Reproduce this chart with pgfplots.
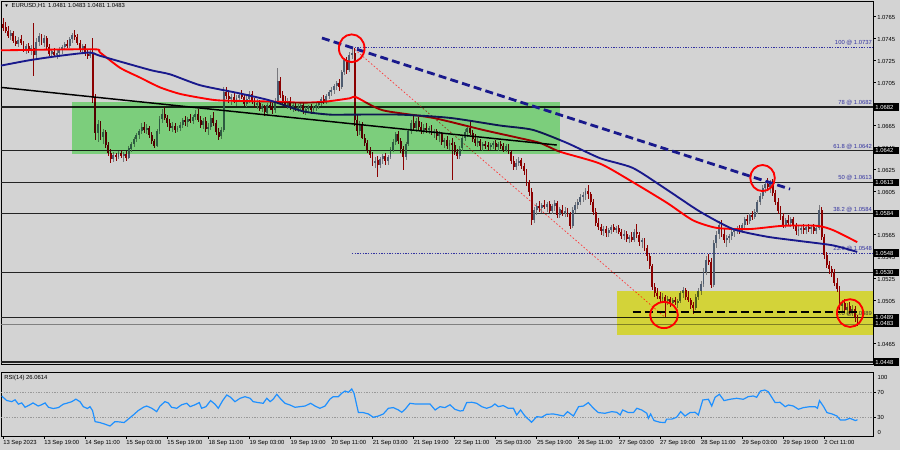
\documentclass[border=0pt]{standalone}
\usepackage{pgfplots}
\pgfplotsset{compat=1.18}
\usepackage{pgfplotstable}
\usepackage{fontspec}
\setmainfont{Liberation Sans}

\definecolor{chartbg}{RGB}{211,211,211}
\definecolor{bullbody}{RGB}{78,92,112}
\definecolor{bullwick}{RGB}{120,120,124}
\definecolor{bearbody}{RGB}{139,0,0}
\definecolor{maslow}{RGB}{25,25,140}
\definecolor{fibblue}{RGB}{50,50,160}
\definecolor{zonegreen}{RGB}{150,250,150}
\definecolor{zoneyellow}{RGB}{255,255,70}
\definecolor{rsiblue}{RGB}{30,144,255}
\definecolor{lvl}{RGB}{35,35,35}

\newcommand{\lbl}{\fontsize{4.4}{5}\selectfont}

\pgfplotsset{
  bull/.style={unbounded coords=discard,
    restrict expr to domain={\thisrow{c}-\thisrow{o}}{-0.000001:1}},
  bear/.style={unbounded coords=discard,
    restrict expr to domain={\thisrow{c}-\thisrow{o}}{-1:-0.00001}},
}
\tikzset{
  pricebox/.style={fill=black, text=white, font=\lbl, inner xsep=1pt, inner ysep=0.5pt,
    text width=17pt, align=left, minimum height=5.4pt, anchor=west, xshift=0.6pt},
  fiblbl/.style={anchor=south east, font=\lbl, text=fibblue, inner xsep=0.6pt, inner ysep=0.9pt},
}

% EURUSD H1, 13 Sep 2023 03:00 onwards, one row per hour
\pgfplotstableread{
o h l c
1.0758 1.0764 1.0752 1.0755
1.0755 1.0760 1.0750 1.0752
1.0752 1.0756 1.0745 1.0747
1.0747 1.0753 1.0744 1.0750
1.0750 1.0752 1.0741 1.0743
1.0743 1.0747 1.0738 1.0740
1.0740 1.0746 1.0737 1.0744
1.0744 1.0748 1.0739 1.0741
1.0741 1.0743 1.0733 1.0735
1.0735 1.0740 1.0731 1.0738
1.0738 1.0741 1.0732 1.0734
1.0734 1.0739 1.0730 1.0736
1.0736 1.0759 1.0711 1.0730
1.0730 1.0745 1.0727 1.0742
1.0742 1.0750 1.0738 1.0747
1.0747 1.0749 1.0739 1.0741
1.0741 1.0748 1.0737 1.0745
1.0745 1.0747 1.0735 1.0737
1.0737 1.0740 1.0729 1.0731
1.0731 1.0735 1.0727 1.0733
1.0733 1.0736 1.0728 1.0730
1.0730 1.0734 1.0726 1.0732
1.0732 1.0737 1.0729 1.0735
1.0735 1.0739 1.0731 1.0737
1.0737 1.0742 1.0734 1.0740
1.0740 1.0744 1.0736 1.0738
1.0738 1.0746 1.0736 1.0744
1.0744 1.0750 1.0741 1.0748
1.0748 1.0753 1.0744 1.0746
1.0746 1.0749 1.0739 1.0741
1.0741 1.0744 1.0733 1.0735
1.0735 1.0740 1.0731 1.0738
1.0738 1.0740 1.0729 1.0731
1.0731 1.0735 1.0726 1.0729
1.0729 1.0734 1.0727 1.0732
1.0732 1.0745 1.0686 1.0690
1.0690 1.0694 1.0652 1.0658
1.0658 1.0670 1.0650 1.0666
1.0666 1.0669 1.0652 1.0655
1.0655 1.0662 1.0648 1.0659
1.0659 1.0661 1.0644 1.0647
1.0647 1.0650 1.0637 1.0640
1.0640 1.0644 1.0631 1.0634
1.0634 1.0641 1.0632 1.0638
1.0638 1.0640 1.0633 1.0636
1.0636 1.0642 1.0634 1.0640
1.0640 1.0643 1.0635 1.0637
1.0637 1.0641 1.0632 1.0639
1.0639 1.0642 1.0633 1.0635
1.0635 1.0646 1.0634 1.0644
1.0644 1.0650 1.0641 1.0648
1.0648 1.0655 1.0645 1.0653
1.0653 1.0658 1.0650 1.0656
1.0656 1.0662 1.0653 1.0660
1.0660 1.0667 1.0657 1.0664
1.0664 1.0668 1.0658 1.0661
1.0661 1.0666 1.0657 1.0663
1.0663 1.0665 1.0654 1.0656
1.0656 1.0659 1.0648 1.0651
1.0651 1.0653 1.0644 1.0646
1.0646 1.0662 1.0645 1.0660
1.0660 1.0674 1.0657 1.0671
1.0671 1.0680 1.0667 1.0676
1.0676 1.0682 1.0670 1.0672
1.0672 1.0675 1.0664 1.0667
1.0667 1.0671 1.0660 1.0663
1.0663 1.0668 1.0659 1.0665
1.0665 1.0667 1.0658 1.0661
1.0661 1.0665 1.0659 1.0663
1.0663 1.0668 1.0660 1.0666
1.0666 1.0672 1.0663 1.0670
1.0670 1.0674 1.0665 1.0668
1.0668 1.0673 1.0664 1.0671
1.0671 1.0676 1.0667 1.0669
1.0669 1.0675 1.0666 1.0673
1.0673 1.0679 1.0670 1.0676
1.0676 1.0680 1.0668 1.0670
1.0670 1.0674 1.0663 1.0666
1.0666 1.0672 1.0662 1.0669
1.0669 1.0673 1.0659 1.0662
1.0662 1.0667 1.0656 1.0664
1.0664 1.0675 1.0661 1.0672
1.0672 1.0677 1.0665 1.0667
1.0667 1.0670 1.0656 1.0659
1.0659 1.0663 1.0652 1.0655
1.0655 1.0664 1.0653 1.0661
1.0661 1.0700 1.0659 1.0696
1.0696 1.0700 1.0689 1.0692
1.0692 1.0697 1.0686 1.0689
1.0689 1.0694 1.0684 1.0691
1.0691 1.0696 1.0686 1.0688
1.0688 1.0693 1.0683 1.0690
1.0690 1.0695 1.0687 1.0693
1.0693 1.0698 1.0689 1.0691
1.0691 1.0694 1.0683 1.0685
1.0685 1.0692 1.0682 1.0689
1.0689 1.0697 1.0686 1.0694
1.0694 1.0697 1.0685 1.0687
1.0687 1.0690 1.0681 1.0684
1.0684 1.0689 1.0680 1.0686
1.0686 1.0688 1.0678 1.0680
1.0680 1.0685 1.0677 1.0683
1.0683 1.0684 1.0674 1.0677
1.0677 1.0686 1.0675 1.0684
1.0684 1.0688 1.0679 1.0682
1.0682 1.0686 1.0676 1.0679
1.0679 1.0690 1.0677 1.0688
1.0688 1.0718 1.0686 1.0706
1.0706 1.0710 1.0690 1.0693
1.0693 1.0697 1.0684 1.0687
1.0687 1.0692 1.0681 1.0683
1.0683 1.0690 1.0680 1.0688
1.0688 1.0691 1.0679 1.0681
1.0681 1.0686 1.0677 1.0684
1.0684 1.0687 1.0678 1.0680
1.0680 1.0685 1.0677 1.0682
1.0682 1.0686 1.0678 1.0684
1.0684 1.0686 1.0676 1.0678
1.0678 1.0682 1.0675 1.0680
1.0680 1.0684 1.0677 1.0682
1.0682 1.0685 1.0676 1.0679
1.0679 1.0683 1.0676 1.0681
1.0681 1.0686 1.0678 1.0684
1.0684 1.0688 1.0680 1.0686
1.0686 1.0691 1.0683 1.0689
1.0689 1.0693 1.0685 1.0687
1.0687 1.0694 1.0685 1.0692
1.0692 1.0698 1.0689 1.0696
1.0696 1.0700 1.0692 1.0698
1.0698 1.0703 1.0694 1.0701
1.0701 1.0706 1.0698 1.0704
1.0704 1.0708 1.0697 1.0700
1.0700 1.0716 1.0699 1.0714
1.0714 1.0727 1.0711 1.0725
1.0725 1.0728 1.0712 1.0716
1.0716 1.0733 1.0714 1.0730
1.0730 1.0737 1.0726 1.0732
1.0732 1.0736 1.0665 1.0670
1.0670 1.0675 1.0655 1.0660
1.0660 1.0669 1.0656 1.0666
1.0666 1.0668 1.0653 1.0654
1.0654 1.0657 1.0646 1.0649
1.0649 1.0652 1.0640 1.0643
1.0643 1.0645 1.0635 1.0638
1.0638 1.0641 1.0628 1.0631
1.0631 1.0636 1.0626 1.0633
1.0633 1.0637 1.0618 1.0629
1.0629 1.0636 1.0626 1.0634
1.0634 1.0639 1.0630 1.0637
1.0637 1.0640 1.0629 1.0632
1.0632 1.0638 1.0629 1.0636
1.0636 1.0645 1.0634 1.0643
1.0643 1.0653 1.0641 1.0650
1.0650 1.0659 1.0647 1.0657
1.0657 1.0660 1.0648 1.0651
1.0651 1.0654 1.0640 1.0643
1.0643 1.0646 1.0624 1.0636
1.0636 1.0650 1.0633 1.0648
1.0648 1.0662 1.0646 1.0660
1.0660 1.0670 1.0657 1.0667
1.0667 1.0675 1.0660 1.0663
1.0663 1.0672 1.0659 1.0669
1.0669 1.0673 1.0660 1.0664
1.0664 1.0668 1.0657 1.0660
1.0660 1.0666 1.0657 1.0663
1.0663 1.0667 1.0658 1.0661
1.0661 1.0665 1.0657 1.0663
1.0663 1.0666 1.0656 1.0658
1.0658 1.0662 1.0654 1.0660
1.0660 1.0662 1.0652 1.0655
1.0655 1.0660 1.0650 1.0657
1.0657 1.0659 1.0647 1.0650
1.0650 1.0654 1.0644 1.0652
1.0652 1.0655 1.0643 1.0646
1.0646 1.0652 1.0643 1.0649
1.0649 1.0654 1.0615 1.0647
1.0647 1.0650 1.0638 1.0641
1.0641 1.0644 1.0634 1.0637
1.0637 1.0646 1.0634 1.0644
1.0644 1.0656 1.0642 1.0654
1.0654 1.0662 1.0651 1.0659
1.0659 1.0666 1.0655 1.0663
1.0663 1.0670 1.0656 1.0658
1.0658 1.0661 1.0650 1.0653
1.0653 1.0657 1.0646 1.0649
1.0649 1.0654 1.0645 1.0651
1.0651 1.0653 1.0643 1.0646
1.0646 1.0650 1.0642 1.0648
1.0648 1.0651 1.0644 1.0647
1.0647 1.0650 1.0642 1.0645
1.0645 1.0649 1.0643 1.0647
1.0647 1.0651 1.0644 1.0649
1.0649 1.0652 1.0643 1.0645
1.0645 1.0650 1.0642 1.0648
1.0648 1.0651 1.0644 1.0646
1.0646 1.0649 1.0641 1.0643
1.0643 1.0648 1.0641 1.0646
1.0646 1.0648 1.0639 1.0641
1.0641 1.0643 1.0630 1.0633
1.0633 1.0637 1.0624 1.0627
1.0627 1.0634 1.0624 1.0631
1.0631 1.0636 1.0628 1.0633
1.0633 1.0635 1.0625 1.0628
1.0628 1.0631 1.0620 1.0623
1.0623 1.0625 1.0610 1.0613
1.0613 1.0615 1.0600 1.0604
1.0604 1.0608 1.0574 1.0578
1.0578 1.0590 1.0576 1.0588
1.0588 1.0594 1.0583 1.0591
1.0591 1.0596 1.0586 1.0589
1.0589 1.0594 1.0585 1.0592
1.0592 1.0597 1.0588 1.0590
1.0590 1.0595 1.0586 1.0593
1.0593 1.0596 1.0585 1.0587
1.0587 1.0593 1.0584 1.0591
1.0591 1.0597 1.0587 1.0594
1.0594 1.0596 1.0580 1.0583
1.0583 1.0590 1.0580 1.0588
1.0588 1.0592 1.0582 1.0585
1.0585 1.0590 1.0581 1.0587
1.0587 1.0589 1.0581 1.0584
1.0584 1.0586 1.0570 1.0573
1.0573 1.0590 1.0571 1.0588
1.0588 1.0595 1.0585 1.0592
1.0592 1.0598 1.0588 1.0595
1.0595 1.0602 1.0592 1.0599
1.0599 1.0604 1.0595 1.0601
1.0601 1.0608 1.0597 1.0605
1.0605 1.0610 1.0598 1.0602
1.0602 1.0604 1.0592 1.0595
1.0595 1.0598 1.0583 1.0586
1.0586 1.0589 1.0573 1.0576
1.0576 1.0580 1.0569 1.0572
1.0572 1.0575 1.0565 1.0568
1.0568 1.0573 1.0564 1.0570
1.0570 1.0573 1.0563 1.0566
1.0566 1.0571 1.0563 1.0569
1.0569 1.0574 1.0566 1.0572
1.0572 1.0575 1.0567 1.0569
1.0569 1.0573 1.0566 1.0571
1.0571 1.0574 1.0565 1.0567
1.0567 1.0570 1.0561 1.0564
1.0564 1.0569 1.0560 1.0566
1.0566 1.0568 1.0558 1.0561
1.0561 1.0565 1.0557 1.0563
1.0563 1.0567 1.0558 1.0560
1.0560 1.0570 1.0558 1.0567
1.0567 1.0575 1.0562 1.0565
1.0565 1.0567 1.0555 1.0558
1.0558 1.0562 1.0553 1.0560
1.0560 1.0562 1.0550 1.0553
1.0553 1.0555 1.0541 1.0545
1.0545 1.0548 1.0533 1.0536
1.0536 1.0538 1.0514 1.0517
1.0517 1.0521 1.0508 1.0511
1.0511 1.0516 1.0506 1.0509
1.0509 1.0512 1.0503 1.0506
1.0506 1.0511 1.0502 1.0508
1.0508 1.0510 1.0489 1.0504
1.0504 1.0509 1.0500 1.0506
1.0506 1.0508 1.0499 1.0502
1.0502 1.0507 1.0499 1.0505
1.0505 1.0508 1.0500 1.0503
1.0503 1.0506 1.0498 1.0504
1.0504 1.0513 1.0502 1.0511
1.0511 1.0517 1.0507 1.0514
1.0514 1.0516 1.0505 1.0508
1.0508 1.0513 1.0503 1.0505
1.0505 1.0507 1.0497 1.0500
1.0500 1.0503 1.0492 1.0498
1.0498 1.0510 1.0496 1.0508
1.0508 1.0516 1.0505 1.0513
1.0513 1.0522 1.0510 1.0520
1.0520 1.0534 1.0517 1.0531
1.0531 1.0545 1.0528 1.0542
1.0542 1.0547 1.0537 1.0540
1.0540 1.0543 1.0516 1.0519
1.0519 1.0560 1.0517 1.0557
1.0557 1.0568 1.0553 1.0565
1.0565 1.0577 1.0561 1.0574
1.0574 1.0578 1.0563 1.0566
1.0566 1.0570 1.0557 1.0560
1.0560 1.0565 1.0554 1.0562
1.0562 1.0566 1.0557 1.0564
1.0564 1.0569 1.0560 1.0567
1.0567 1.0571 1.0563 1.0569
1.0569 1.0573 1.0565 1.0571
1.0571 1.0574 1.0566 1.0568
1.0568 1.0576 1.0566 1.0574
1.0574 1.0581 1.0571 1.0579
1.0579 1.0583 1.0574 1.0577
1.0577 1.0585 1.0575 1.0583
1.0583 1.0587 1.0578 1.0581
1.0581 1.0588 1.0579 1.0586
1.0586 1.0597 1.0584 1.0595
1.0595 1.0603 1.0592 1.0600
1.0600 1.0610 1.0598 1.0608
1.0608 1.0614 1.0603 1.0611
1.0611 1.0617 1.0606 1.0609
1.0609 1.0615 1.0603 1.0613
1.0613 1.0616 1.0600 1.0603
1.0603 1.0606 1.0592 1.0595
1.0595 1.0599 1.0584 1.0587
1.0587 1.0591 1.0578 1.0582
1.0582 1.0585 1.0571 1.0574
1.0574 1.0580 1.0571 1.0578
1.0578 1.0583 1.0574 1.0576
1.0576 1.0581 1.0572 1.0579
1.0579 1.0581 1.0570 1.0573
1.0573 1.0576 1.0565 1.0568
1.0568 1.0573 1.0564 1.0570
1.0570 1.0574 1.0566 1.0571
1.0571 1.0575 1.0566 1.0569
1.0569 1.0574 1.0565 1.0572
1.0572 1.0575 1.0567 1.0570
1.0570 1.0574 1.0566 1.0572
1.0572 1.0575 1.0566 1.0568
1.0568 1.0574 1.0565 1.0571
1.0571 1.0592 1.0569 1.0588
1.0588 1.0590 1.0560 1.0563
1.0563 1.0566 1.0543 1.0546
1.0546 1.0549 1.0534 1.0537
1.0537 1.0541 1.0529 1.0533
1.0533 1.0536 1.0526 1.0530
1.0530 1.0533 1.0518 1.0521
1.0521 1.0525 1.0512 1.0515
1.0515 1.0518 1.0496 1.0499
1.0499 1.0505 1.0494 1.0502
1.0502 1.0506 1.0493 1.0496
1.0496 1.0502 1.0491 1.0499
1.0499 1.0503 1.0492 1.0495
1.0495 1.0500 1.0490 1.0497
1.0497 1.0499 1.0485 1.0489
1.0489 1.0491 1.0481 1.0483
}\candles

\begin{document}
\begin{tikzpicture}
\fill[chartbg] (0,0) rectangle (675pt,-337.5pt);

% ---------------- price window ----------------
\begin{axis}[
  at={(0.75pt,-0.75pt)}, anchor=north west,
  scale only axis, width=654pt, height=272.25pt,
  xmin=-0.78, xmax=339.05, ymin=1.044616, ymax=1.077927,
  axis background/.style={fill=chartbg},
  axis line style={black, line width=0.6pt},
  clip mode=individual,
  xtick=\empty,
  ytick={1.0465,1.0485,1.0505,1.0525,1.0545,1.0565,1.0585,1.0605,1.0625,1.0645,1.0665,1.0685,1.0705,1.0725,1.0745,1.0765},
  yticklabels={1.0465,1.0485,1.0505,1.0525,1.0545,1.0565,1.0585,1.0605,1.0625,1.0645,1.0665,1.0685,1.0705,1.0725,1.0745,1.0765},
  ytick pos=right, yticklabel pos=right,
  tick align=outside, major tick length=2.2pt,
  tick style={black, line width=0.4pt},
  yticklabel style={font=\lbl, inner sep=0.8pt, yshift=-1pt},
]
% horizontal levels
\draw[lvl, line width=0.85pt] (axis cs:-0.78,1.0682) -- (axis cs:339.05,1.0682);
\draw[lvl, line width=0.85pt] (axis cs:-0.78,1.0642) -- (axis cs:339.05,1.0642);
\draw[lvl, line width=0.85pt] (axis cs:-0.78,1.0613) -- (axis cs:339.05,1.0613);
\draw[lvl, line width=0.85pt] (axis cs:-0.78,1.0584) -- (axis cs:339.05,1.0584);
\draw[lvl, line width=0.85pt] (axis cs:-0.78,1.0530) -- (axis cs:339.05,1.0530);
\draw[lvl, line width=0.85pt] (axis cs:-0.78,1.0489) -- (axis cs:339.05,1.0489);
\draw[lvl, line width=0.85pt] (axis cs:-0.78,1.0448) -- (axis cs:339.05,1.0448);
\draw[gray, line width=0.4pt] (axis cs:-0.78,1.0483) -- (axis cs:339.05,1.0483);
\draw[fibblue, line width=0.5pt, dash pattern=on 1pt off 1pt] (axis cs:136,1.0737) -- (axis cs:339.05,1.0737);
\draw[fibblue, line width=0.5pt, dash pattern=on 1pt off 1pt] (axis cs:136,1.0548) -- (axis cs:339.05,1.0548);

% fibonacci labels
\node[fiblbl] at (axis cs:339.05,1.0737) {100 @ 1.0737};
\node[fiblbl] at (axis cs:339.05,1.0682) {78 @ 1.0682};
\node[fiblbl] at (axis cs:339.05,1.0642) {61.8 @ 1.0642};
\node[fiblbl] at (axis cs:339.05,1.0613) {50 @ 1.0613};
\node[fiblbl] at (axis cs:339.05,1.0584) {38.2 @ 1.0584};
\node[fiblbl] at (axis cs:339.05,1.0548) {23.6 @ 1.0548};
\node[fiblbl] at (axis cs:339.05,1.0489) {0.0 @ 1.0489};

% red dotted fibo base line
\draw[red!80, line width=0.5pt, dash pattern=on 1.2pt off 1.5pt] (axis cs:136,1.0737) -- (axis cs:258,1.0489);

% candles: wicks
\addplot[draw=none, mark=none, bull, error bars/.cd, y dir=both, y explicit, error mark=none,
  error bar style={draw=bullwick, line width=0.55pt}]
  table[x expr=\coordindex, y expr={(\thisrow{h}+\thisrow{l})/2}, y error expr={(\thisrow{h}-\thisrow{l})/2}] {\candles};
\addplot[draw=none, mark=none, bear, error bars/.cd, y dir=both, y explicit, error mark=none,
  error bar style={draw=bearbody, line width=0.55pt}]
  table[x expr=\coordindex, y expr={(\thisrow{h}+\thisrow{l})/2}, y error expr={(\thisrow{h}-\thisrow{l})/2}] {\candles};
% candles: bodies
\addplot[draw=none, mark=none, bull, error bars/.cd, y dir=both, y explicit, error mark=none,
  error bar style={draw=bullbody, line width=1.45pt}]
  table[x expr=\coordindex, y expr={(\thisrow{o}+\thisrow{c})/2}, y error expr={max(abs(\thisrow{c}-\thisrow{o})/2,0.00004)}] {\candles};
\addplot[draw=none, mark=none, bear, error bars/.cd, y dir=both, y explicit, error mark=none,
  error bar style={draw=bearbody, line width=1.45pt}]
  table[x expr=\coordindex, y expr={(\thisrow{o}+\thisrow{c})/2}, y error expr={max(abs(\thisrow{c}-\thisrow{o})/2,0.00004)}] {\candles};

% moving averages
\addplot[red, line width=1.4pt, smooth, tension=0.4] coordinates {
(-0.78,1.0734) (35,1.0735) (37.8,1.0732) (45.6,1.0718) (53.4,1.0709) (61.2,1.0700)
(69,1.0694) (78,1.0690) (84.6,1.0688) (104,1.0687) (117,1.0686) (126,1.0687)
(135.2,1.0690) (137.6,1.0691) (148,1.0679) (167.6,1.0672) (187,1.0661) (200.3,1.0654)
(209.3,1.0649) (217,1.0641) (232.7,1.0630) (245.5,1.0613) (258.8,1.0594) (268.9,1.0578)
(278.3,1.0571) (291,1.0570) (304,1.0573) (317.2,1.0573) (323.5,1.0569) (332.9,1.0558)
};
\addplot[maslow, line width=1.4pt, smooth, tension=0.4] coordinates {
(-0.78,1.0720) (10.5,1.0725) (22.2,1.0729) (33.9,1.0732) (37.8,1.0729) (57.3,1.0716)
(65.1,1.0712) (76.8,1.0702) (91.2,1.0695) (104,1.0688) (117,1.0678) (127.4,1.0675)
(135.2,1.0675) (154.7,1.0675) (174.2,1.0672) (193.7,1.0665) (206.5,1.0661) (219.8,1.0649)
(232.7,1.0635) (245.5,1.0626) (258.8,1.0606) (271.6,1.0586) (284.5,1.0570) (297.7,1.0563)
(310.6,1.0559) (323.5,1.0555) (332.9,1.0549)
};

% black trend line
\draw[black, line width=1.1pt] (axis cs:-0.78,1.0700) -- (axis cs:215.8,1.06471);

% zones
\fill[zonegreen, blend mode=multiply] (axis cs:27,1.06869) rectangle (axis cs:217.1,1.06389);
\fill[zoneyellow, blend mode=multiply] (axis cs:239.3,1.05131) rectangle (axis cs:339.05,1.04727);

% support dashed line and falling resistance
\draw[black, line width=1.7pt, dash pattern=on 6pt off 3pt] (axis cs:245.4,1.04941) -- (axis cs:333.3,1.04941);
\draw[maslow, line width=2.1pt, dash pattern=on 6pt off 3.2pt] (axis cs:124.3,1.07453) -- (axis cs:306.7,1.06067);

% hand drawn circles
\draw[red, line width=1.4pt] (axis cs:135.9,1.07359) ellipse[x radius=9.6pt, y radius=10.4pt];
\draw[red, line width=1.4pt] (axis cs:296,1.06168) ellipse[x radius=9.2pt, y radius=9.8pt];
\draw[red, line width=1.4pt] (axis cs:257.6,1.04911) ellipse[x radius=10.4pt, y radius=9.8pt];
\draw[red, line width=1.4pt] (axis cs:330.1,1.04929) ellipse[x radius=9.8pt, y radius=10.4pt];

% price boxes on the scale
\node[pricebox] at (axis cs:339.05,1.0682) {1.0682};
\node[pricebox] at (axis cs:339.05,1.0642) {1.0642};
\node[pricebox] at (axis cs:339.05,1.0613) {1.0613};
\node[pricebox] at (axis cs:339.05,1.0584) {1.0584};
\node[pricebox] at (axis cs:339.05,1.0548) {1.0548};
\node[pricebox] at (axis cs:339.05,1.0530) {1.0530};
\node[pricebox] at (axis cs:339.05,1.0489) {1.0489};
\node[pricebox] at (axis cs:339.05,1.0483) {1.0483};
\node[pricebox] at (axis cs:339.05,1.0448) {1.0448};
\end{axis}

% ---------------- RSI window ----------------
\begin{axis}[
  at={(0.75pt,-279pt)}, anchor=north west,
  scale only axis, width=654pt, height=48pt,
  xmin=-0.78, xmax=339.05, ymin=0, ymax=102.5,
  axis background/.style={fill=chartbg},
  axis line style={black, line width=0.6pt},
  clip mode=individual,
  xtick={0,16,...,320},
  xticklabels={13 Sep 2023,13 Sep 19:00,14 Sep 11:00,15 Sep 03:00,15 Sep 19:00,18 Sep 11:00,19 Sep 03:00,19 Sep 19:00,20 Sep 11:00,21 Sep 03:00,21 Sep 19:00,22 Sep 11:00,25 Sep 03:00,25 Sep 19:00,26 Sep 11:00,27 Sep 03:00,27 Sep 19:00,28 Sep 11:00,29 Sep 03:00,29 Sep 19:00,2 Oct 11:00},
  xtick pos=bottom,
  xticklabel style={font=\lbl, anchor=north west, inner sep=0pt, yshift=-1.2pt},
  ytick={30,70}, yticklabels={30,70},
  ytick pos=right, yticklabel pos=right,
  tick align=outside, major tick length=2.2pt,
  tick style={black, line width=0.4pt},
  yticklabel style={font=\lbl, inner sep=0.8pt},
]
\draw[gray!80, line width=0.35pt, dash pattern=on 1pt off 1pt] (axis cs:-0.78,70) -- (axis cs:339.05,70);
\draw[gray!80, line width=0.35pt, dash pattern=on 1pt off 1pt] (axis cs:-0.78,30) -- (axis cs:339.05,30);
\addplot[rsiblue, line width=0.9pt] coordinates {
(-0.5,64) (1.4,57) (3.4,55) (4.7,58) (6,51) (7.3,53) (8.6,46) (10.5,50) (11.7,53) (13.7,48)
(15,50) (16.4,53) (17.7,46) (19.6,44) (21.6,45.5) (23.5,51) (24.8,52.4) (26.8,55) (28.4,59)
(30,55) (31.3,47) (32.9,44) (33.9,47) (34.9,40.7) (35.9,23) (37.8,21.5) (39.7,19) (41.7,16)
(43.6,23) (45.6,22.5) (47.2,21.5) (48.8,27) (50.8,33.7) (52.7,40.7) (54.7,46) (56,48)
(58,44.4) (59.9,39) (61.2,48) (63.1,55) (64.4,53) (65.7,46) (67.7,44.4) (69.6,50) (71.6,52.4)
(72.9,47) (74.8,50) (76.5,53.5) (77.4,44.4) (79.1,47) (80.9,56.7) (82.6,51) (83.9,44.4)
(85.6,56.7) (87.2,65.7) (88.7,62) (90.4,55) (92.4,60.4) (94.3,63) (96.3,60.4) (97.5,55)
(99.5,53.5) (101.4,52.4) (102.8,60.4) (104.1,55) (105.3,59) (106.7,66.8) (108,60.4)
(109.9,52.4) (111.8,49.7) (113.8,46) (115.7,47) (117.7,48) (119.9,52.4) (121.6,48)
(123.5,44.4) (125.5,48) (127.4,59) (128.7,63) (130.7,63) (132,68.4) (133.3,72) (134.6,70)
(135.9,75.3) (136.8,68.4) (138.5,37.5) (140.4,37.5) (142.4,35.3) (144.3,30) (146.3,32)
(148.2,35.3) (150.2,44.4) (152.1,45.5) (154.1,41.7) (155.4,38) (156.7,42.8) (158.6,52.4)
(160.6,51.3) (162.5,51.3) (166.4,51.3) (168.4,41.7) (170.3,47) (172.2,45.5) (174.2,50)
(176.1,42.8) (178.1,40) (179.3,40.7) (180.7,53.5) (182.7,54) (184.6,52.4) (186.6,47)
(188.5,44.4) (190.4,47) (191.7,51.3) (193,47) (195,48.7) (196.9,44.4) (198.9,44.4)
(200.2,33.7) (201.7,41.7) (203.4,32) (206,22) (208,31) (209.9,30) (211.9,34.8) (214.5,35.3)
(216.5,33.7) (218.4,32) (220,39) (222.3,32) (224.3,47) (226.2,48) (228.1,53.5) (230.1,44.4)
(232,37.5) (234.6,36.4) (237.2,39) (239.2,38) (240.5,33.7) (241.5,41.7) (243.7,37.5)
(245.7,37.5) (247,44.4) (248.9,41.7) (250.9,36.4) (251.5,28.4) (252.4,35.3) (253.7,24.7)
(256,22) (258,21.5) (258.6,27) (260.6,27) (262.5,30) (264.1,39) (265.8,32) (267.7,37.5)
(269.7,38) (271,33.7) (272.7,57.7) (274.9,58.8) (276.2,48) (277.5,62) (279.2,66.8) (281,56.7)
(283.3,58.8) (285.9,60.4) (288.5,58.8) (290.4,63) (292.4,64.1) (293.7,62) (295.2,72)
(296.9,73.7) (298.2,71) (299.6,62) (300.9,53.5) (302.8,54) (304.8,47) (306.1,49.7) (308,48)
(310,42.8) (311.9,45.5) (314.5,47) (316.5,47) (317.4,44.4) (318.2,56.7) (319.8,47)
(321.1,37.5) (323.1,35.3) (325,32) (326.3,25.7) (328.3,25.7) (330,28.4) (332.2,24.7) (333,26.06)
};
\end{axis}

% window captions and fixed scale labels
\node[anchor=west, inner sep=0pt, font=\lbl] at (3pt,-4.6pt) {{\fontsize{3.4}{4}\selectfont ▼}\hspace{2.2pt}EURUSD,H1\hspace{2pt}1.0481 1.0483 1.0481 1.0483};
\node[anchor=west, inner sep=0pt, font=\lbl] at (3pt,-283.6pt) {RSI(14) 26.0614};
\node[anchor=west, inner sep=0pt, font=\lbl] at (658pt,-282.8pt) {100};
\node[anchor=west, inner sep=0pt, font=\lbl] at (658pt,-324pt) {0};

\pgfresetboundingbox
\path[use as bounding box] (0,0) rectangle (675pt,-337.5pt);
\end{tikzpicture}
\end{document}
